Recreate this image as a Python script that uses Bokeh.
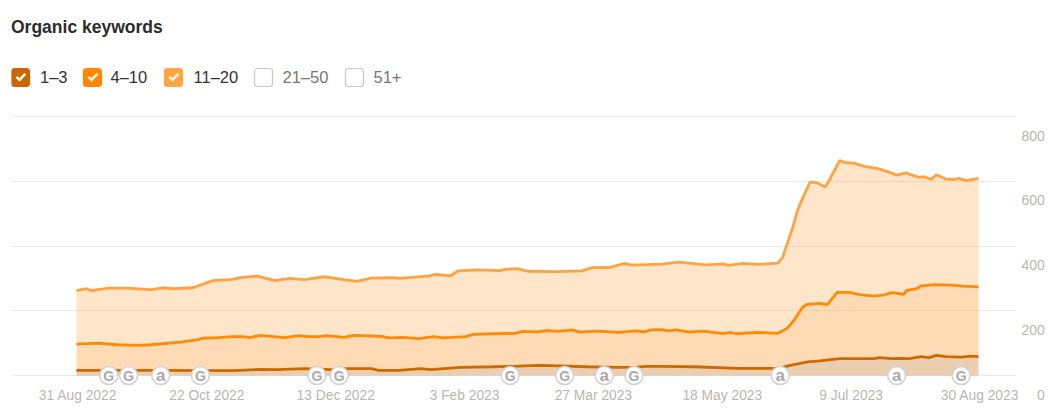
import pandas as pd
from bokeh.core.properties import value
from bokeh.embed import file_html
from bokeh.models import (BoxAnnotation, ColumnDataSource, FixedTicker, Label, LinearAxis,
                          PolyAnnotation, Range1d)
from bokeh.plotting import figure
from bokeh.resources import INLINE

START = pd.Timestamp("2022-08-31")

# 11-20 positions
top_days = [0,4,6,13,20,30,35,39,47,55,63,66,73,80,86,92,100,108,113,119,128,130,142,145,151,154,162,171,173,178,182,194,204,208,212,215,221,224,236,243,254,261,263,269,275,283,285,287,289,291,293,296,299,302,303,305,308,310,314,318,323,328,331,335,336,340,342,345,347,351,355,356,359,364]
top_vals = [262,268,262,270,270,265,271,268,271,293,297,302,307,293,300,296,305,296,291,301,302,300,307,312,308,323,326,324,328,330,322,321,323,333,334,333,346,341,344,350,342,345,340,346,343,347,365,412,456,510,547,597,595,582,592,621,664,658,655,646,640,628,619,626,622,612,614,606,620,606,606,609,602,609]
# 4-10 positions
mid_days = [0,9,16,25,30,42,49,51,57,63,67,70,74,84,90,93,98,101,108,112,119,123,126,132,138,144,148,157,160,168,177,180,186,190,194,200,203,210,219,226,229,232,236,239,242,247,253,261,264,266,275,283,287,290,293,295,300,303,307,312,316,322,326,329,334,335,339,341,347,353,358,364]
mid_vals = [97,100,95,93,95,103,111,115,117,120,120,117,124,117,123,120,120,123,118,124,122,121,116,118,114,120,116,120,127,129,130,136,135,139,136,141,134,137,133,138,135,141,142,138,141,134,137,129,133,129,133,130,147,175,211,220,223,219,257,257,250,245,249,256,251,263,268,277,281,279,276,274]
# 1-3 positions
low_days = [0,30,63,74,81,92,103,109,119,122,130,139,143,155,168,178,187,195,206,218,226,230,235,249,267,280,283,288,295,300,308,322,324,329,332,336,341,344,347,351,357,361,364]
low_vals = [16,16,15,19,18,21,18,21,21,16,16,21,18,25,27,29,31,30,27,25,26,28,28,27,22,22,21,31,42,45,52,52,55,52,53,52,58,55,62,58,57,60,58]

event_days = [13,21,34,50,97,106,175,197,213,225,284,331,357]
event_marks = ["G","G","a","G","G","G","G","G","a","G","a","a","G"]

x_tick_days = [0,52,104,156,208,260,312,364]
x_tick_labels = ["31 Aug 2022","22 Oct 2022","13 Dec 2022","3 Feb 2023","27 Mar 2023","18 May 2023","9 Jul 2023","30 Aug 2023"]
y_ticks = [0,200,400,600,800]
y_tick_labels = ["\u2007\u20070","200","400","600","800"]

legend_names = ["1\u20133","4\u201310","11\u201320","21\u201350","51+"]
legend_colors = ["#CC6600","#FF8800","#FFA640",None,None]
title_text = "Organic keywords"


def dates(days):
    return [START + pd.Timedelta(days=d) for d in days]


def ms(days):
    return (START + pd.Timedelta(days=days)).value / 1e6


PX_PER_UNIT = 0.32375
PX_PER_DAY = 2.478
X0 = 76
Y0 = 375
LABEL_SHIFT = 19  # y tick labels sit this far below their gridlines
FRAME_L, FRAME_R, FRAME_T, FRAME_B = 11, 1016, 0, 397

p = figure(width=1047, height=405, output_backend="svg", toolbar_location=None,
           x_axis_type="datetime",
           x_range=Range1d(ms((FRAME_L - X0) / PX_PER_DAY), ms((FRAME_R - X0) / PX_PER_DAY)),
           y_range=Range1d((Y0 - FRAME_B) / PX_PER_UNIT, (Y0 - FRAME_T) / PX_PER_UNIT),
           min_border_left=FRAME_L, min_border_right=1047 - FRAME_R, min_border_top=0,
           min_border_bottom=405 - FRAME_B,
           outline_line_color=None, background_fill_color="white", border_fill_color="white")

p.xgrid.visible = False
p.ygrid.ticker = FixedTicker(ticks=y_ticks)
p.ygrid.grid_line_color = "#e9e9e9"
p.ygrid.grid_line_width = 1.2

xa = p.xaxis[0]
tick_pos = [ms(d + 0.6) for d in x_tick_days]
xa.ticker = FixedTicker(ticks=tick_pos)
xa.major_label_overrides = dict(zip(tick_pos, x_tick_labels))
xa.axis_line_color = None
xa.major_tick_line_color = None
xa.minor_tick_line_color = None
xa.major_tick_out = 0
xa.major_tick_in = 0
xa.minor_tick_out = 0
xa.major_label_standoff = -10
xa.major_label_text_font = "Liberation Sans"
xa.major_label_text_font_size = "13.8px"
xa.major_label_text_color = "#b9b6b3"

p.yaxis.visible = False
p.extra_y_ranges = {"labels": Range1d((Y0 + LABEL_SHIFT - FRAME_B) / PX_PER_UNIT,
                                      (Y0 + LABEL_SHIFT - FRAME_T) / PX_PER_UNIT)}
ya = LinearAxis(y_range_name="labels", ticker=FixedTicker(ticks=y_ticks),
                major_label_overrides=dict(zip(y_ticks, y_tick_labels)))
ya.axis_line_color = None
ya.major_tick_line_color = None
ya.minor_tick_line_color = None
ya.major_tick_out = 0
ya.major_tick_in = 0
ya.minor_tick_out = 0
ya.major_label_standoff = 5
ya.major_label_text_font = "Liberation Sans"
ya.major_label_text_font_size = "14px"
ya.major_label_text_color = "#b9b6b3"
p.add_layout(ya, "right")

# areas
p.varea(x=dates(top_days), y1=0, y2=top_vals, fill_color="#FFA040", fill_alpha=0.28)
p.varea(x=dates(mid_days), y1=0, y2=mid_vals, fill_color="#FF8800", fill_alpha=0.1)
p.varea(x=dates(low_days), y1=0, y2=low_vals, fill_color="#9C9D9E", fill_alpha=0.2)
# lines
p.line(dates(top_days), top_vals, line_color="#FFA340", line_width=2.8)
p.line(dates(mid_days), mid_vals, line_color="#FF8A05", line_width=2.8)
p.line(dates(low_days), low_vals, line_color="#CC6A00", line_width=2.8)

# event badges
evt = ColumnDataSource(dict(x=dates(event_days), y=[0] * len(event_days), t=event_marks,
                            s=["17px" if m == "a" else "14px" for m in event_marks]))
p.scatter("x", "y", source=evt, marker="circle", size=18, fill_color="white",
          line_color="#d2d2d2", line_width=1.6)
p.text("x", "y", text="t", source=evt, text_align="center", text_baseline="middle",
       text_font=value("Liberation Sans"), text_font_style="bold", text_font_size="s",
       text_color="#aaaaaa")

p.add_layout(Label(x=10.5, y=26, x_units="canvas", y_units="canvas", text=title_text,
                   text_font="Liberation Sans", text_font_style="bold", text_font_size="17.5px",
                   text_color="#2c2c2c", text_baseline="middle"))

box_x = [11, 83, 164, 254, 345]
label_x = [39.5, 110, 193, 282, 373]
for bx, lx, name, col in zip(box_x, label_x, legend_names, legend_colors):
    p.add_layout(BoxAnnotation(left=bx, right=bx + 18, top=68, bottom=86,
                               left_units="canvas", right_units="canvas", top_units="canvas",
                               bottom_units="canvas", border_radius=3,
                               fill_color=col or "white", fill_alpha=1,
                               line_color=col or "#c8c8c8", line_alpha=1, line_width=1.2, level="overlay"))
    if col:
        xs = [4.2, 5.8, 8, 13, 14.6, 8]
        ys = [9.2, 7.6, 9.8, 4.6, 6.2, 13]
        p.add_layout(PolyAnnotation(xs=[bx + v for v in xs], ys=[68 + v for v in ys],
                                    xs_units="canvas", ys_units="canvas", fill_color="white",
                                    fill_alpha=1, line_color="white", line_width=0.5, level="overlay"))
    p.add_layout(Label(x=lx, y=76, x_units="canvas", y_units="canvas", text=name,
                       text_font="Liberation Sans", text_font_size="16.5px",
                       text_color="#333333" if col else "#777777", text_baseline="middle"))

# collapse chevron
p.add_layout(PolyAnnotation(xs=[1026, 1033, 1040.5, 1040.5, 1033, 1026],
                            ys=[31, 23.5, 31, 33, 25.5, 33],
                            xs_units="canvas", ys_units="canvas", fill_color="#b0b0b0", fill_alpha=1,
                            line_color="#b0b0b0", line_width=0.3, level="overlay"))

open("out.html", "w").write(file_html(p, INLINE))
